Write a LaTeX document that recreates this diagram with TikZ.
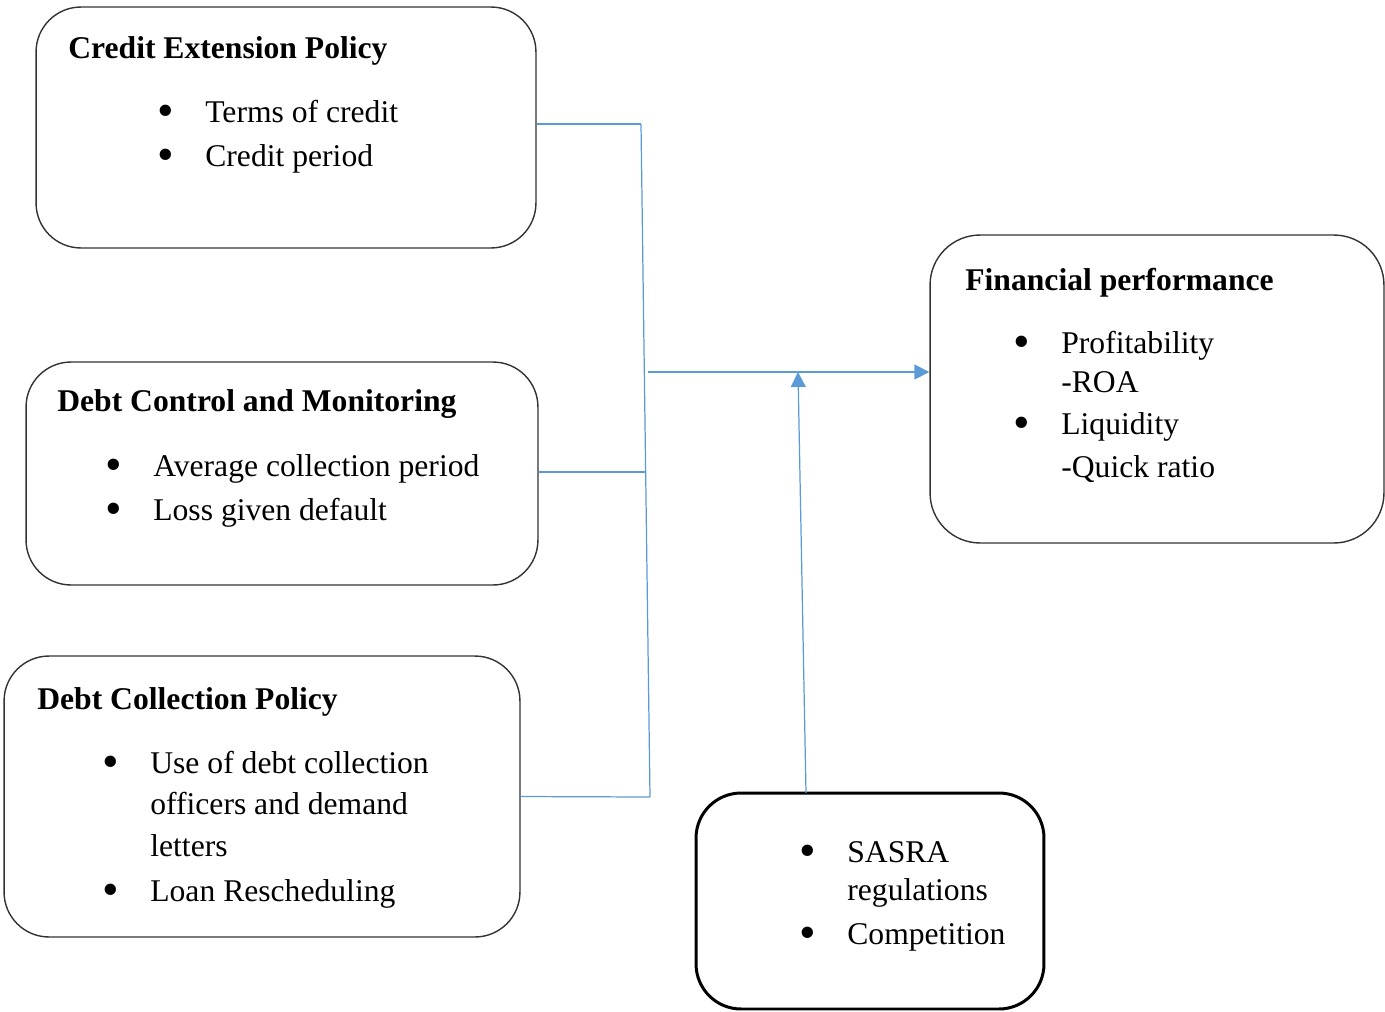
\documentclass[tikz,border=0pt]{standalone}
\usepackage{fontspec}
\setmainfont{Liberation Serif}
\usepackage{graphicx}
\usepackage{tikz}
\usetikzlibrary{shapes, arrows.meta}

\definecolor{lineblue}{HTML}{5B9BD5}
\newcommand{\bul}{\llap{\raisebox{-2.8pt}{\scalebox{1.5}{\textbullet}}\hspace{18pt}}}

\begin{document}
\begin{tikzpicture}[x=0.02cm, y=-0.02cm]

\tikzstyle{connector} = [draw, line width=0.7pt, color=lineblue]
\tikzstyle{arrowline} = [connector, -{Triangle[length=8.5pt,width=8.5pt]}]
\tikzstyle{block} = [rectangle, draw=black!80, line width=0.8pt, rounded corners=0.9cm, inner sep=0pt]
\tikzstyle{heading} = [anchor=base west, inner sep=0pt, font=\fontsize{18}{22}\selectfont\bfseries]
\tikzstyle{boxtext} = [anchor=base west, inner sep=0pt, font=\fontsize{18}{22}\selectfont]

\useasboundingbox (0,0) rectangle (1385,1011);

% boxes
\node [block, minimum width=10cm, minimum height=4.82cm] at (286,127.5) (cep) {};
\node [block, minimum width=10.24cm, minimum height=4.46cm] at (282,473.5) (dcm) {};
\node [block, minimum width=10.32cm, minimum height=5.62cm] at (262,796.5) (dcp) {};
\node [block, minimum width=9.08cm, minimum height=6.16cm, rounded corners=1cm] at (1157,389) (fp) {};
\node [block, draw=black, line width=1.7pt, minimum width=6.96cm, minimum height=4.32cm] at (870,901) (sasra) {};

% texts
\node [heading] at (68,58) (cep0) {Credit Extension Policy};
\node [boxtext] at (205,122) (cep1) {\bul Terms of credit};
\node [boxtext] at (205,166) (cep2) {\bul Credit period};

\node [heading] at (57,411) (dcm0) {Debt Control and Monitoring};
\node [boxtext] at (153,476) (dcm1) {\bul Average collection period};
\node [boxtext] at (153,520) (dcm2) {\bul Loss given default};

\node [heading] at (37,709) (dcp0) {Debt Collection Policy};
\node [boxtext] at (150,773) (dcp1) {\bul Use of debt collection};
\node [boxtext] at (150,814) (dcp2) {officers and demand};
\node [boxtext] at (150,856) (dcp3) {letters};
\node [boxtext] at (150,901) (dcp4) {\bul Loan Rescheduling};

\node [heading] at (965,290) (fp0) {Financial performance};
\node [boxtext] at (1061,353) (fp1) {\bul Profitability};
\node [boxtext] at (1061,392) (fp2) {-ROA};
\node [boxtext] at (1061,434) (fp3) {\bul Liquidity};
\node [boxtext] at (1061,477) (fp4) {-Quick ratio};

\node [boxtext] at (847,862) (sasra1) {\bul SASRA};
\node [boxtext] at (847,900) (sasra2) {regulations};
\node [boxtext] at (847,944) (sasra3) {\bul Competition};

% bus line
\coordinate (bustop) at (641,124);
\coordinate (busmid) at (645,472);
\coordinate (busbot) at (650,797);
\coordinate (hub) at (648,372);
\coordinate (regin) at (806,793);
\coordinate (regout) at (798,372);

\path [connector] (cep.east |- bustop) -- (bustop);
\path [connector] (dcm.east |- busmid) -- (busmid);
\path [connector] (dcp.east) -- (busbot);
\path [connector] (bustop) -- (busbot);
\path [arrowline] (hub) -- (hub -| fp.west);
\path [arrowline] (regin) -- (regout);

\end{tikzpicture}
\end{document}
